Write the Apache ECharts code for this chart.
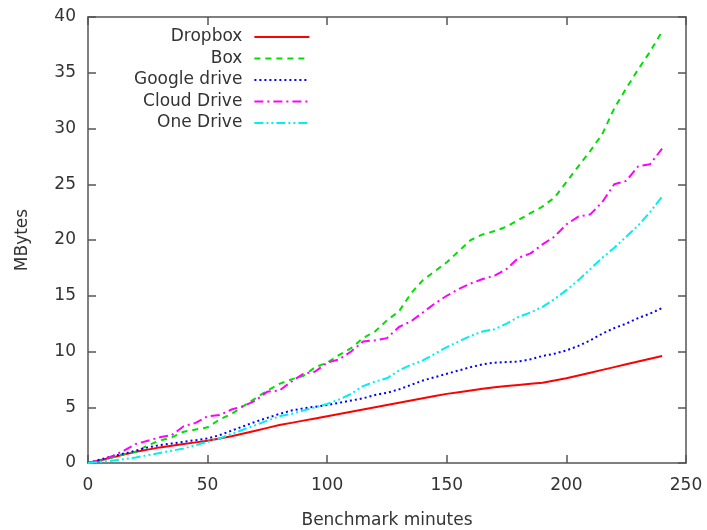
<!DOCTYPE html>
<html>
<head>
<meta charset="utf-8">
<script src="https://cdn.jsdelivr.net/npm/echarts@6/dist/echarts.min.js"></script>
<style>
  html, body { margin: 0; padding: 0; background: #fff; }
  #chart { width: 707px; height: 530px; }
</style>
</head>
<body>
<div id="chart"></div>
<script>
// minutes, sampled every 5
const minutes = [0,5,10,15,20,25,30,35,40,45,50,55,60,65,70,75,80,85,90,95,100,105,110,115,120,
  125,130,135,140,145,150,155,160,165,170,175,180,185,190,195,200,205,210,215,220,225,230,235,240]

const dropbox = [0,0.25,0.5,0.75,1.0,1.2,1.4,1.55,1.7,1.85,2.0,2.2,2.4,2.65,2.9,3.15,3.4,3.6,3.8,4.0,4.2,
  4.4,4.6,4.8,5.0,5.2,5.4,5.6,5.8,6.0,6.2,6.35,6.5,6.65,6.8,6.9,7.0,7.1,7.2,7.4,7.6,7.85,8.1,8.35,8.6,8.85,9.1,9.35,9.6]

const box = [0,0.2,0.5,0.8,1.0,1.6,2.0,2.3,2.8,3.0,3.2,3.9,4.4,5.1,5.8,6.5,7.1,7.5,7.8,8.6,9.0,
  9.7,10.3,11.2,11.8,12.8,13.6,15.2,16.4,17.2,18.0,19.0,20.0,20.5,20.8,21.2,21.8,22.4,23.0,23.8,25.2,26.6,28.0,29.5,31.8,33.6,35.3,36.9,38.7]

const googleDrive = [0,0.3,0.6,0.85,1.1,1.4,1.6,1.75,1.9,2.05,2.2,2.5,2.9,3.3,3.7,4.05,4.4,4.7,4.9,5.05,5.2,
  5.4,5.6,5.8,6.1,6.3,6.6,7.0,7.4,7.7,8.0,8.3,8.6,8.85,9.0,9.05,9.1,9.3,9.6,9.8,10.1,10.5,11.0,11.6,12.1,12.5,13.0,13.4,13.9]

const cloudDrive = [0,0.2,0.6,1.1,1.7,2.0,2.3,2.5,3.3,3.6,4.2,4.3,4.8,5.1,5.6,6.4,6.5,7.3,8.0,8.2,9.0,
  9.3,10.0,10.9,11.0,11.2,12.2,12.7,13.5,14.3,15.0,15.6,16.1,16.5,16.8,17.4,18.4,18.8,19.6,20.3,21.4,22.1,22.3,23.4,25.0,25.3,26.6,26.8,28.2]

const oneDrive = [0,0.1,0.2,0.35,0.5,0.7,0.9,1.1,1.3,1.6,1.9,2.2,2.6,3.0,3.4,3.8,4.2,4.4,4.7,5.0,5.3,
  5.7,6.2,6.9,7.3,7.6,8.3,8.8,9.2,9.8,10.4,10.9,11.4,11.8,12.0,12.5,13.1,13.5,14.0,14.7,15.5,16.4,17.4,18.4,19.3,20.3,21.3,22.5,23.9]

const seriesNames = ['Dropbox', 'Box', 'Google drive', 'Cloud Drive', 'One Drive']
const seriesValues = [dropbox, box, googleDrive, cloudDrive, oneDrive]
const colors = ['#ff0000', '#00e000', '#0000ff', '#ff00ff', '#00f0f0']
const dashes = ['solid', [6, 5], [2, 3], [9, 4, 2, 4], [9, 3, 2, 3, 2, 3]]

const font = 'DejaVu Sans'
const textColor = '#333'
const axisColor = '#555'

const chart = echarts.init(document.getElementById('chart'))

function pairs(values) {
  return minutes.map((m, i) => [m, values[i]])
}

const lineAxis = { show: true, onZero: false, lineStyle: { color: axisColor, width: 1.5 } }
const tickAxis = { show: true, inside: true, length: 8, lineStyle: { color: axisColor, width: 1.5 } }

chart.setOption({
  animation: false,
  backgroundColor: '#fff',
  grid: { left: 88, right: 21, top: 17, bottom: 67, outerBoundsMode: 'none' },
  legend: {
    orient: 'vertical',
    left: 134,
    top: 28.5,
    padding: 0,
    align: 'right',
    itemWidth: 55,
    itemHeight: 14,
    itemGap: 4.5,
    itemStyle: { color: 'rgba(0,0,0,0)', borderColor: 'rgba(0,0,0,0)', borderWidth: 0, opacity: 0 },
    textStyle: { fontFamily: font, fontSize: 17, color: textColor, padding: [0, 7, 0, 0] },
    data: seriesNames
  },
  xAxis: [
    {
      type: 'value', min: 0, max: 250, interval: 50, position: 'bottom',
      splitLine: { show: false }, axisLine: lineAxis, axisTick: tickAxis,
      name: 'Benchmark minutes',
      nameLocation: 'middle',
      nameGap: 49,
      nameTextStyle: { fontFamily: font, fontSize: 17, color: textColor },
      axisLabel: { fontFamily: font, fontSize: 17, color: textColor, margin: 14 }
    },
    {
      type: 'value', min: 0, max: 250, interval: 50, position: 'top',
      splitLine: { show: false }, axisLine: lineAxis, axisTick: tickAxis,
      axisLabel: { show: false }
    }
  ],
  yAxis: [
    {
      type: 'value', min: 0, max: 40, interval: 5, position: 'left',
      splitLine: { show: false }, axisLine: lineAxis, axisTick: tickAxis,
      name: 'MBytes',
      nameLocation: 'middle',
      nameGap: 57,
      nameTextStyle: { fontFamily: font, fontSize: 17, color: textColor },
      axisLabel: { fontFamily: font, fontSize: 17, color: textColor, margin: 12 }
    },
    {
      type: 'value', min: 0, max: 40, interval: 5, position: 'right',
      splitLine: { show: false }, axisLine: lineAxis, axisTick: tickAxis,
      axisLabel: { show: false }
    }
  ],
  series: seriesNames.map((name, i) => ({
    name: name,
    type: 'line',
    data: pairs(seriesValues[i]),
    showSymbol: false,
    symbol: 'none',
    color: colors[i],
    lineStyle: { color: colors[i], width: 2, type: dashes[i] }
  }))
})
</script>
</body>
</html>
